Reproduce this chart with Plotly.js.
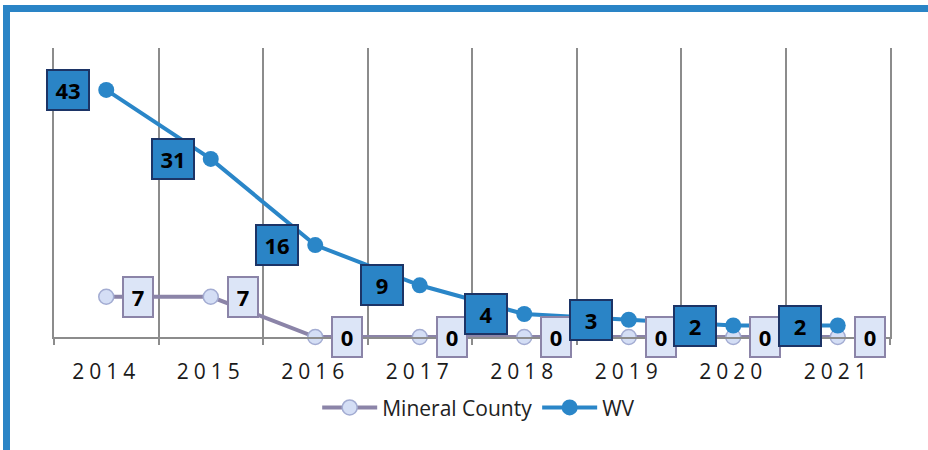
<!DOCTYPE html>
<html>
<head>
<meta charset="utf-8">
<script src="https://cdn.plot.ly/plotly-3.0.1.min.js"></script>
<style>
  html, body { margin: 0; padding: 0; overflow: hidden; background: #fff; }
  #chart { width: 928px; height: 450px; }
  #frame { position: absolute; left: 3px; top: 5px; width: 940px; height: 460px;
           border: 7px solid #2a84c6; pointer-events: none; }
</style>
</head>
<body>
<div id="chart"></div>
<div id="frame"></div>
<script>
const years = ['2014', '2015', '2016', '2017', '2018', '2019', '2020', '2021'];
const mineralCounty = [7, 7, 0, 0, 0, 0, 0, 0];
const wv = [43, 31, 16, 9, 4, 3, 2, 2];

const traces = [
  {
    type: 'scatter', mode: 'lines+markers', name: 'Mineral County',
    x: years, y: mineralCounty, cliponaxis: false,
    line: { color: '#8b84a8', width: 4 },
    marker: { size: 15, color: '#d4def5', line: { color: '#a3acd2', width: 1.5 } }
  },
  {
    type: 'scatter', mode: 'lines+markers', name: 'WV',
    x: years, y: wv, cliponaxis: false,
    line: { color: '#2a86c8', width: 4 },
    marker: { size: 16, color: '#2a86c8' }
  }
];

const labelFont = { family: 'Open Sans, Arial, sans-serif', size: 22, color: '#000' };
const annotations = [];
years.forEach((yr, i) => {
  annotations.push({
    x: i, y: wv[i], xref: 'x', yref: 'y', xshift: -38,
    text: '<b>' + wv[i] + '</b>', showarrow: false,
    font: labelFont,
    bgcolor: '#2a84c6', bordercolor: '#1c3466', borderwidth: 2, borderpad: 0,
    width: 40, height: 38
  });
  annotations.push({
    x: i, y: mineralCounty[i], xref: 'x', yref: 'y', xshift: 32,
    text: '<b>' + mineralCounty[i] + '</b>', showarrow: false,
    font: labelFont,
    bgcolor: '#dce5f7', bordercolor: '#8b84a8', borderwidth: 2, borderpad: 0,
    width: 28, height: 38
  });
});

const layout = {
  width: 928, height: 450,
  margin: { l: 54, r: 38, t: 48, b: 113 },
  paper_bgcolor: '#fff', plot_bgcolor: '#fff',
  showlegend: true,
  legend: {
    orientation: 'h', x: 0.508, xanchor: 'center', y: -0.245, yanchor: 'middle',
    itemwidth: 55,
    font: { family: 'Open Sans, Arial, sans-serif', size: 21, color: '#222' }
  },
  xaxis: {
    type: 'category', range: [-0.5, 7.5], tickson: 'boundaries',
    showgrid: true, gridcolor: '#8c8c8c', gridwidth: 2,
    ticks: 'outside', ticklen: 6, tickcolor: '#8c8c8c', tickwidth: 2,
    showline: true, linecolor: '#8c8c8c', linewidth: 2,
    ticklabelstandoff: 15,
    tickfont: { family: 'Open Sans, Arial, sans-serif', size: 21, color: '#1a1a1a' }
  },
  yaxis: {
    range: [0, 50.3], showline: true, mirror: true, linecolor: '#8c8c8c', linewidth: 2,
    showticklabels: false, ticks: '', showgrid: false, zeroline: false
  },
  annotations: annotations
};

Plotly.newPlot('chart', traces, layout, { displayModeBar: false }).then(() => {
  document.querySelectorAll('.xtick text').forEach(t => { t.style.letterSpacing = '5px'; });
}).catch(e => { document.body.insertAdjacentHTML('beforeend', '<pre>' + e + '</pre>'); });
</script>
</body>
</html>
